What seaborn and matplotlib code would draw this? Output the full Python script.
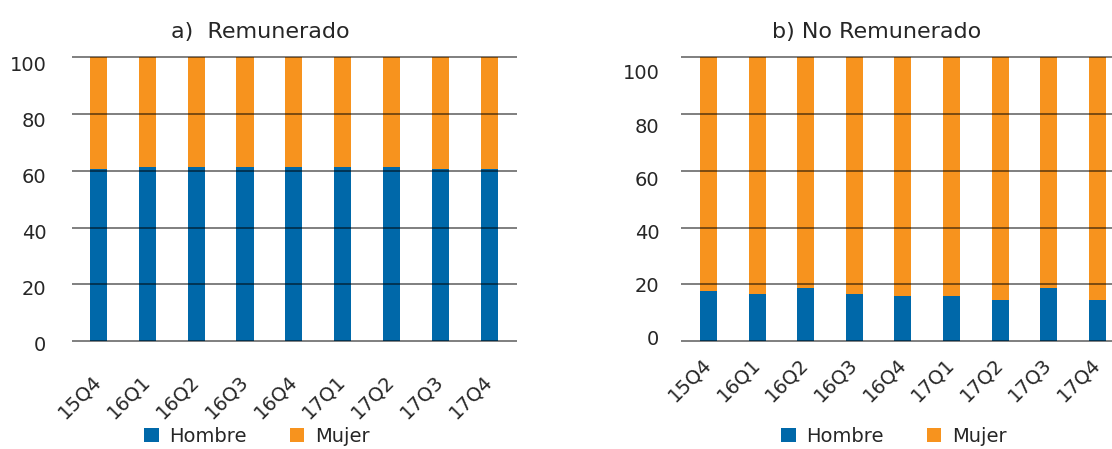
import matplotlib
matplotlib.use("Agg")
import matplotlib.pyplot as plt
from matplotlib.patches import Patch
import numpy as np
import pandas as pd
import seaborn as sns

# ---------------- data ----------------
quarters = ['15Q4', '16Q1', '16Q2', '16Q3', '16Q4', '17Q1', '17Q2', '17Q3', '17Q4']
rem_hombre = [60.7, 61.4, 61.4, 61.4, 61.4, 61.4, 61.4, 60.7, 60.7]
rem_mujer = [39.3, 38.6, 38.6, 38.6, 38.6, 38.6, 38.6, 39.3, 39.3]
norem_hombre = [17.6, 16.8, 18.6, 16.8, 15.8, 15.8, 14.7, 18.6, 14.7]
norem_mujer = [82.4, 83.2, 81.4, 83.2, 84.2, 84.2, 85.3, 81.4, 85.3]
yticks = [0, 20, 40, 60, 80, 100]
titles = ['a)  Remunerado', 'b) No Remunerado']
series_names = ['Hombre', 'Mujer']
colors = ['#0068A9', '#F7931E']

# ---------------- style ----------------
sns.set_theme(style='white')
plt.rcParams['font.family'] = ['DejaVu Sans']
TXT = '#262626'
FS = 14
TFS = 16

W, H = 1112, 449
fig = plt.figure(figsize=(W / 100, H / 100), dpi=100)


def px_rect(left_px, width_px, top_px, bottom_px):
    return [left_px / W, (H - bottom_px) / H, width_px / W, (bottom_px - top_px) / H]


def panel(left_px, xlim, px_per_cat, lab_ylim, lab_pad, xpad, hombre, mujer):
    width_px = (xlim[1] - xlim[0]) * px_per_cat
    rect = px_rect(left_px, width_px, 54.46, 344.14)
    ax = fig.add_axes(rect)
    df = pd.DataFrame({'q': quarters, series_names[0]: hombre, series_names[1]: mujer})
    df['Total'] = df[series_names[0]] + df[series_names[1]]
    sns.barplot(data=df, x='q', y='Total', color=colors[1], width=0.35,
                saturation=1, errorbar=None, linewidth=0, ax=ax)
    sns.barplot(data=df, x='q', y=series_names[0], color=colors[0], width=0.35,
                saturation=1, errorbar=None, linewidth=0, ax=ax)
    ax.set_xlim(*xlim)
    ax.set_ylim(-1, 101)
    ax.set_yticks(yticks)
    ax.yaxis.grid(True, color='black', alpha=0.5, lw=1.4)
    ax.xaxis.grid(False)
    ax.set_axisbelow(False)
    for s in ax.spines.values():
        s.set_visible(False)
    ax.set_xlabel('')
    ax.set_ylabel('')
    ax.tick_params(axis='y', length=0, labelleft=False)
    ax.tick_params(axis='x', length=0, pad=xpad, labelsize=FS, labelcolor=TXT)
    ax.set_xticks(range(len(quarters)))
    ax.set_xticklabels(quarters, rotation=45, ha='right', va='center',
                       rotation_mode='anchor')

    lab = fig.add_axes(rect)
    lab.set_ylim(*lab_ylim)
    lab.set_yticks(yticks)
    lab.set_xticks([])
    lab.patch.set_visible(False)
    for s in lab.spines.values():
        s.set_visible(False)
    lab.tick_params(axis='y', length=0, pad=lab_pad, labelsize=FS, labelcolor=TXT)
    return ax


ax1 = panel(72, (-0.54, 8.56), 48.875, (-0.30, 103.34), 18.4, 24.5, rem_hombre, rem_mujer)
ax2 = panel(681, (-0.566, 8.5), 48.6, (-2.31, 106.59), 15.6, 12.2, norem_hombre, norem_mujer)

fig.text(260 / W, (H - 37.7) / H, titles[0], ha='center', va='baseline',
         fontsize=TFS, color=TXT)
fig.text(876.5 / W, (H - 38) / H, titles[1], ha='center', va='baseline',
         fontsize=TFS, color=TXT)

handles = [Patch(facecolor=c, edgecolor='none', label=n) for c, n in zip(colors, series_names)]
for x0 in (144, 781):
    fig.legend(handles=handles, loc='center left', bbox_to_anchor=(x0 / W, (H - 436.5) / H),
               ncol=2, frameon=False, fontsize=FS, labelcolor=TXT,
               handlelength=0.75, handleheight=0.75, handletextpad=0.55,
               columnspacing=2.2, borderpad=0, borderaxespad=0)

fig.savefig('out.png', dpi=100)
